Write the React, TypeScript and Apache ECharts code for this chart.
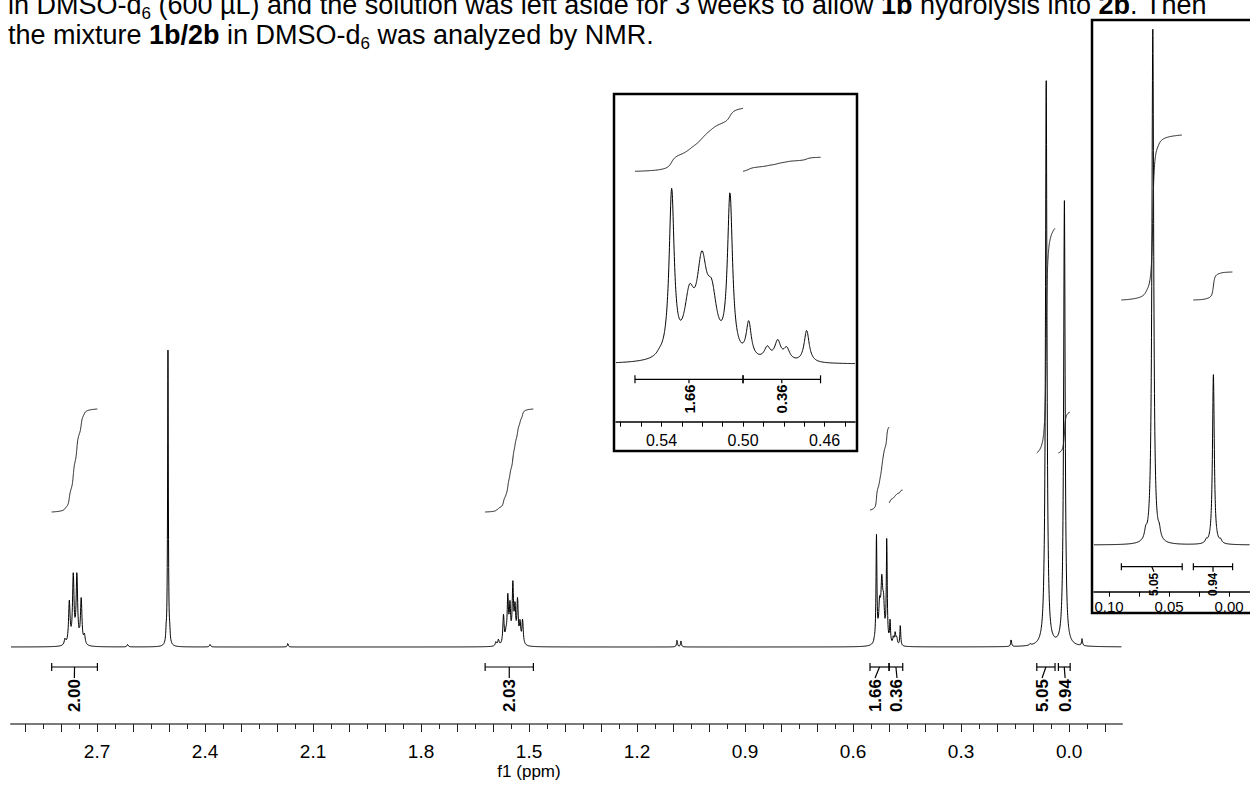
import React, { useEffect, useRef } from "react";
import * as echarts from "echarts";

const FONT = '"Liberation Sans", Arial, Helvetica, sans-serif';

// ---------------- data ----------------
// tick labels
const mainTickLabels = [0.0, 0.3, 0.6, 0.9, 1.2, 1.5, 1.8, 2.1, 2.4, 2.7];
const insetATickLabels = [0.46, 0.5, 0.54];
const insetBTickLabels = [0.0, 0.05, 0.1];

// peak lists: [shift (ppm), height (px above baseline), half width (ppm)]
const peaksCH2at276 = [
  [2.789, 6, 0.0025], [2.777, 42, 0.0025], [2.766, 68, 0.0025],
  [2.756, 68, 0.0025], [2.744, 45, 0.0025], [2.735, 9, 0.0025],
];
const peaksDMSO = [[2.508, 8, 0.0012], [2.503, 296, 0.0012], [2.498, 8, 0.0012]];
const peaksMinor = [
  [2.615, 2.5, 0.002], [2.386, 2.5, 0.002], [2.17, 4, 0.0015],
  [1.089, 7, 0.0015], [1.078, 6, 0.0015], [0.161, 7, 0.0015],
  [0.108, 1.5, 0.002], [-0.036, 7, 0.0015],
];
const peaksCH2at155 = [
  [1.592, 4, 0.0022], [1.585, 6, 0.0022], [1.571, 29, 0.0022], [1.564, 8, 0.0022],
  [1.559, 45, 0.0022], [1.553, 35, 0.0022], [1.545, 57, 0.0022], [1.539, 33, 0.0022],
  [1.532, 42, 0.0022], [1.525, 20, 0.0022], [1.518, 24, 0.0022],
];
// 0.47-0.55 ppm region (heights as seen in the upper inset)
const region05Shift = [0.541, 0.535, 0.5263, 0.5202, 0.5153, 0.5064, 0.4972, 0.4881, 0.483, 0.4786, 0.4688];
const region05Height = [2, 165, 54, 85, 52, 160, 35, 12, 19, 12, 32];
const region05Width = [0.0015, 0.0015, 0.003, 0.003, 0.003, 0.0015, 0.0015, 0.0018, 0.0018, 0.0018, 0.0015];
const region05MainScale = 0.64;
// Si-CH3 singlets
const peaksSiMeMain = [[0.0694, 5, 0.002], [0.0635, 565, 0.0025], [0.0581, 5, 0.002], [0.013, 445, 0.0025]];
const peaksSiMeInset = [
  [0.0694, 8, 0.0012], [0.0635, 515, 0.0009], [0.0581, 8, 0.0012],
  [0.019, 3, 0.001], [0.013, 170, 0.0009], [0.007, 3, 0.001],
];

// integrals
const integralValues = ["2.00", "2.03", "1.66", "0.36", "5.05", "0.94"];
const integralFrom = [2.826, 1.622, 0.553, 0.5, 0.0897, 0.0297];
const integralTo = [2.699, 1.488, 0.5, 0.462, 0.039, -0.003];
const integralLabelAtMain = [2.763, 1.555, 0.539, 0.478, 0.075, 0.011];

// header text (*bold*, _6 subscript)
const headerLine1 = "in DMSO-d_6 (600 µL) and the solution was left aside for 3 weeks to allow *1b* hydrolysis into *2b*. Then";
const headerLine2 = "the mixture *1b/2b* in DMSO-d_6 was analyzed by NMR.";

// ---------------- layout ----------------
const MAIN = { left: 11, top: 40, width: 1111, height: 684, yMin: -77, yMax: 607, xMin: -0.147, xMax: 2.939 };
const INA = { left: 616, top: 97, width: 239, height: 324.7, yMin: -57.4, yMax: 267.3, xMin: 0.4451, xMax: 0.5623 };
const INB = { left: 1094, top: 14, width: 156, height: 577.7, yMin: -46.7, yMax: 531, xMin: -0.0175, xMax: 0.1125 };
const mainIntegralY = [[135, 238], [135, 238], [137, 220], [144, 157], [194, 419], [194, 235]];
const insetAIntegralY = [[193, 256], [193, 207]];
const insetBIntegralY = [[245, 410], [245, 273]];

function lor(x: number, peaks: number[][]) {
  let s = 0;
  for (const [p, h, w] of peaks) {
    const d = (x - p) / w;
    s += h / (1 + d * d);
  }
  return s;
}
function sample(hi: number, lo: number, step: number, peaks: number[][]) {
  const n = Math.round((hi - lo) / step);
  const out: number[][] = [];
  for (let i = 0; i <= n; i++) {
    const x = hi - i * step;
    out.push([x, lor(x, peaks)]);
  }
  return out;
}
function integralCurve(hi: number, lo: number, peaks: number[][], y0: number, y1: number) {
  const step = 0.0001;
  const n = Math.round((hi - lo) / step);
  const vals: number[] = [];
  let cum = 0;
  let prev = lor(hi, peaks);
  vals.push(0);
  for (let i = 1; i <= n; i++) {
    const v = lor(hi - i * step, peaks);
    cum += (v + prev) / 2;
    prev = v;
    vals.push(cum);
  }
  return vals.map((c, i) => [hi - i * step, y0 + ((y1 - y0) * c) / cum]);
}

function bracketSeries(xIdx: number, yIdx: number, idx: number[], labelAt: number[], barY: number, stem: number, cap: number, fs: number) {
  return {
    type: "custom",
    xAxisIndex: xIdx,
    yAxisIndex: yIdx,
    silent: true,
    z: 6,
    data: idx.map((k, j) => [integralFrom[k], integralTo[k], labelAt[j]]),
    renderItem: (params: any, api: any) => {
      const a = api.coord([api.value(0), barY]);
      const b = api.coord([api.value(1), barY]);
      const l = api.coord([api.value(2), barY]);
      const y = a[1];
      const mid = (a[0] + b[0]) / 2;
      const st = { stroke: "#000", lineWidth: 1.2 };
      return {
        type: "group",
        children: [
          { type: "line", shape: { x1: a[0], y1: y, x2: b[0], y2: y }, style: st },
          { type: "line", shape: { x1: a[0], y1: y - cap, x2: a[0], y2: y + cap }, style: st },
          { type: "line", shape: { x1: b[0], y1: y - cap, x2: b[0], y2: y + cap }, style: st },
          { type: "line", shape: { x1: mid, y1: y, x2: l[0], y2: y + stem }, style: st },
          {
            type: "text",
            x: l[0],
            y: y + stem + 1,
            rotation: Math.PI / 2,
            style: {
              text: integralValues[idx[params.dataIndex]],
              align: "right",
              verticalAlign: "middle",
              font: `bold ${fs}px ${FONT}`,
              fill: "#000",
            },
          },
        ],
      };
    },
  };
}

function headerGraphics() {
  const ctx = document.createElement("canvas").getContext("2d") as CanvasRenderingContext2D;
  const fs = 27, subFs = 17;
  const fontOf = (k: string) => (k === "b" ? `bold ${fs}px ${FONT}` : k === "sub" ? `${subFs}px ${FONT}` : `${fs}px ${FONT}`);
  const parse = (w: string) => {
    const segs: { t: string; k: string }[] = [];
    const re = /\*([^*]+)\*|_(\d)|([^*_]+)/g;
    let m: RegExpExecArray | null;
    while ((m = re.exec(w))) {
      if (m[1]) segs.push({ t: m[1], k: "b" });
      else if (m[2]) segs.push({ t: m[2], k: "sub" });
      else segs.push({ t: m[3], k: "n" });
    }
    return segs;
  };
  const width = (s: { t: string; k: string }) => {
    ctx.font = fontOf(s.k);
    return ctx.measureText(s.t).width;
  };
  ctx.font = fontOf("n");
  const spaceW = ctx.measureText(" ").width;
  const els: any[] = [];
  const layoutLine = (line: string, baseline: number) => {
    const words = line.split(" ").map(parse);
    let x = 8;
    words.forEach((w) => {
      w.forEach((s) => {
        const f = s.k === "sub" ? subFs : fs;
        const base = s.k === "sub" ? baseline + 5 : baseline;
        els.push({
          type: "text",
          x,
          y: base - 0.35 * f,
          z: 30,
          style: { text: s.t, font: fontOf(s.k), fill: "#000", align: "left", verticalAlign: "middle" },
        });
        x += width(s);
      });
      x += spaceW;
    });
  };
  layoutLine(headerLine1, 14);
  layoutLine(headerLine2, 44);
  return els;
}

function buildOption() {
  const region05 = region05Shift.map((p, i) => [p, region05Height[i], region05Width[i]]);
  const region05Main = region05.map(([p, h, w]) => [p, h * region05MainScale, w]);
  const mainPeaks = [...peaksCH2at276, ...peaksDMSO, ...peaksMinor, ...peaksCH2at155, ...region05Main, ...peaksSiMeMain];

  const lineS = (data: number[][], xi: number, yi: number, color: string, w: number) => ({
    type: "line",
    xAxisIndex: xi,
    yAxisIndex: yi,
    data,
    showSymbol: false,
    symbol: "none",
    silent: true,
    lineStyle: { color, width: w },
    z: 3,
  });

  const series: any[] = [];
  series.push(lineS(sample(MAIN.xMax, MAIN.xMin, 0.0004, mainPeaks), 0, 0, "#000", 1));
  integralFrom.forEach((hi, k) => {
    series.push(lineS(integralCurve(hi, integralTo[k], mainPeaks, mainIntegralY[k][0], mainIntegralY[k][1]), 0, 0, "#222", 1));
  });
  series.push(bracketSeries(0, 0, [0, 1, 2, 3, 4, 5], integralLabelAtMain, -20, 11, 4, 17));

  series.push(lineS(sample(INA.xMax, INA.xMin, 0.0001, region05), 1, 1, "#000", 1));
  [2, 3].forEach((k, j) => {
    series.push(lineS(integralCurve(integralFrom[k], integralTo[k], region05, insetAIntegralY[j][0], insetAIntegralY[j][1]), 1, 1, "#222", 1));
  });
  series.push(bracketSeries(1, 1, [2, 3], [2, 3].map((k) => (integralFrom[k] + integralTo[k]) / 2), -15, 4, 4, 15));

  series.push(lineS(sample(INB.xMax, INB.xMin, 0.0001, peaksSiMeInset), 2, 2, "#000", 1));
  [4, 5].forEach((k, j) => {
    series.push(lineS(integralCurve(integralFrom[k], integralTo[k], peaksSiMeInset, insetBIntegralY[j][0], insetBIntegralY[j][1]), 2, 2, "#222", 1));
  });
  series.push(bracketSeries(2, 2, [4, 5], [0.0625, 0.0133], -21.7, 5, 3.5, 12));

  const majorTicks: number[] = [];
  for (let i = -1; i <= 29; i++) majorTicks.push(+(i * 0.1).toFixed(2));
  const minorTicks: number[] = [];
  for (let i = -1; i <= 28; i++) minorTicks.push(+(i * 0.1 + 0.05).toFixed(3));
  const insetATicks: number[] = [];
  for (let i = 45; i <= 56; i++) insetATicks.push(i / 100);
  const insetBTicks = [0, 0.025, 0.05, 0.075, 0.1];

  const grid = (g: any) => ({ left: g.left, top: g.top, width: g.width, height: g.height, containLabel: false });
  const yAx = (gi: number, g: any) => ({ gridIndex: gi, type: "value", min: g.yMin, max: g.yMax, show: false });

  return {
    animation: false,
    backgroundColor: "#fff",
    grid: [grid(MAIN), grid(INA), grid(INB), grid(MAIN)],
    xAxis: [
      {
        gridIndex: 0, type: "value", min: MAIN.xMin, max: MAIN.xMax, inverse: true,
        axisLine: { show: true, onZero: false, lineStyle: { color: "#7a7a7a", width: 2 } },
        axisTick: { show: true, customValues: majorTicks, length: 8, lineStyle: { color: "#222", width: 1 } },
        axisLabel: { show: true, customValues: mainTickLabels, formatter: (v: number) => v.toFixed(1), fontSize: 19, fontFamily: FONT, color: "#000", margin: 18 },
        splitLine: { show: false },
      },
      {
        gridIndex: 1, type: "value", min: INA.xMin, max: INA.xMax, inverse: true,
        axisLine: { show: true, onZero: false, lineStyle: { color: "#000", width: 1.5 } },
        axisTick: { show: true, customValues: insetATicks, length: 5, lineStyle: { color: "#000", width: 1 } },
        axisLabel: { show: true, customValues: insetATickLabels, formatter: (v: number) => v.toFixed(2), fontSize: 16, fontFamily: FONT, color: "#000", margin: 11 },
        splitLine: { show: false },
      },
      {
        gridIndex: 2, type: "value", min: INB.xMin, max: INB.xMax, inverse: true,
        axisLine: { show: true, onZero: false, lineStyle: { color: "#000", width: 1.5 } },
        axisTick: { show: true, customValues: insetBTicks, length: 5, lineStyle: { color: "#000", width: 1 } },
        axisLabel: { show: true, customValues: insetBTickLabels, formatter: (v: number) => v.toFixed(2), fontSize: 15, fontFamily: FONT, color: "#000", margin: 7 },
        splitLine: { show: false },
      },
      {
        gridIndex: 3, type: "value", min: MAIN.xMin, max: MAIN.xMax, inverse: true,
        axisLine: { show: false, onZero: false },
        axisTick: { show: true, customValues: minorTicks, length: 5, lineStyle: { color: "#222", width: 1 } },
        axisLabel: { show: false },
        splitLine: { show: false },
      },
    ],
    yAxis: [yAx(0, MAIN), yAx(1, INA), yAx(2, INB), yAx(3, MAIN)],
    series,
    graphic: [
      ...headerGraphics(),
      { type: "text", x: 529, y: 771, z: 30, style: { text: "f1 (ppm)", font: `17px ${FONT}`, fill: "#000", align: "center", verticalAlign: "middle" } },
      { type: "rect", z: 50, shape: { x: 614, y: 94, width: 243, height: 357 }, style: { fill: "none", stroke: "#000", lineWidth: 2.5 } },
      { type: "rect", z: 50, shape: { x: 1092, y: 20, width: 170, height: 593 }, style: { fill: "none", stroke: "#000", lineWidth: 2.5 } },
    ],
  };
}

export default function App() {
  const ref = useRef<HTMLDivElement>(null);
  useEffect(() => {
    if (!ref.current) return;
    const chart = echarts.init(ref.current, undefined, { renderer: "svg" });
    chart.setOption(buildOption() as any);
    return () => chart.dispose();
  }, []);
  return <div ref={ref} style={{ position: "absolute", left: 0, top: 0, width: 1250, height: 785, background: "#fff" }} />;
}
